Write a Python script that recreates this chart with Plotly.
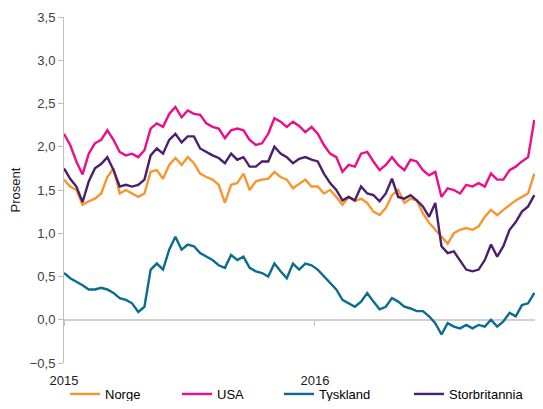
import pandas as pd
import plotly.graph_objects as go

# ~9-day sampling from 1 Jan 2015
dates = pd.date_range("2015-01-01", periods=77, freq="9D")

norge = [1.62, 1.54, 1.50, 1.33, 1.37, 1.40, 1.46, 1.65, 1.75, 1.46,
         1.50, 1.46, 1.42, 1.46, 1.71, 1.73, 1.63, 1.79, 1.87, 1.79,
         1.88, 1.81, 1.69, 1.65, 1.62, 1.56, 1.35, 1.56, 1.58, 1.69,
         1.50, 1.60, 1.62, 1.63, 1.71, 1.65, 1.62, 1.52, 1.57, 1.62,
         1.54, 1.54, 1.46, 1.50, 1.42, 1.33, 1.42, 1.37, 1.40, 1.35,
         1.25, 1.21, 1.29, 1.44, 1.50, 1.35, 1.40, 1.38, 1.23, 1.12,
         1.04, 0.96, 0.88, 1.00, 1.04, 1.06, 1.04, 1.08, 1.19, 1.27,
         1.21, 1.27, 1.33, 1.38, 1.42, 1.46, 1.69]
usa = [2.15, 2.02, 1.83, 1.68, 1.92, 2.04, 2.08, 2.19, 2.08, 1.94,
       1.90, 1.92, 1.88, 1.96, 2.21, 2.27, 2.23, 2.38, 2.46, 2.34,
       2.42, 2.38, 2.37, 2.27, 2.23, 2.21, 2.10, 2.19, 2.21, 2.19,
       2.08, 2.02, 2.04, 2.15, 2.33, 2.29, 2.23, 2.29, 2.24, 2.17,
       2.23, 2.15, 2.02, 1.92, 1.88, 1.71, 1.79, 1.77, 1.92, 1.94,
       1.83, 1.73, 1.79, 1.88, 1.79, 1.73, 1.85, 1.83, 1.73, 1.67,
       1.71, 1.42, 1.52, 1.50, 1.46, 1.56, 1.54, 1.58, 1.54, 1.69,
       1.62, 1.62, 1.73, 1.77, 1.83, 1.88, 2.31]
tyskland = [0.54, 0.48, 0.44, 0.40, 0.35, 0.35, 0.37, 0.35, 0.31, 0.25,
            0.23, 0.19, 0.09, 0.15, 0.58, 0.65, 0.58, 0.81, 0.96, 0.81,
            0.87, 0.85, 0.77, 0.73, 0.69, 0.63, 0.60, 0.75, 0.69, 0.73,
            0.60, 0.56, 0.54, 0.50, 0.65, 0.56, 0.48, 0.65, 0.58, 0.65,
            0.63, 0.58, 0.50, 0.42, 0.35, 0.23, 0.19, 0.15, 0.21, 0.31,
            0.21, 0.12, 0.15, 0.25, 0.21, 0.15, 0.13, 0.10, 0.10, 0.04,
            -0.04, -0.17, -0.04, -0.08, -0.10, -0.06, -0.10, -0.06, -0.08, 0.00,
            -0.08, -0.02, 0.08, 0.04, 0.17, 0.19, 0.31]
storbritannia = [1.75, 1.63, 1.54, 1.36, 1.60, 1.75, 1.80, 1.88, 1.73, 1.54,
                 1.56, 1.54, 1.56, 1.62, 1.90, 1.98, 1.92, 2.08, 2.15, 2.05,
                 2.12, 2.12, 1.98, 1.94, 1.90, 1.87, 1.81, 1.92, 1.85, 1.88,
                 1.77, 1.77, 1.83, 1.83, 2.00, 1.92, 1.88, 1.81, 1.86, 1.88,
                 1.85, 1.83, 1.69, 1.58, 1.50, 1.38, 1.42, 1.38, 1.54, 1.46,
                 1.44, 1.37, 1.46, 1.63, 1.42, 1.40, 1.44, 1.38, 1.31, 1.19,
                 1.35, 0.85, 0.77, 0.79, 0.69, 0.58, 0.56, 0.58, 0.69, 0.87,
                 0.73, 0.85, 1.04, 1.13, 1.25, 1.31, 1.44]

year_ticks = ["2015-01-01", "2016-01-01"]
year_labels = ["2015", "2016"]
x_range = ["2015-01-01", "2016-11-16"]

series = [("Norge", norge, "#F7962F"),
          ("USA", usa, "#EC0C8C"),
          ("Tyskland", tyskland, "#0B6B92"),
          ("Storbritannia", storbritannia, "#4B1E6E")]

# page body has an 8px default margin: size the figure so the page does not scroll
OFF = 8
W, H = 543 - 2 * OFF, 409 - 2 * OFF
L, R, T = 64 - OFF, 0, 17 - OFF
pw, ph = W - L - R, 346
B = H - T - ph
legend_px = [72, 184, 286, 416]
legend_y = 394

fig = go.Figure()
for k, (name, vals, col) in enumerate(series):
    lg = "legend" if k == 0 else f"legend{k+1}"
    fig.add_trace(go.Scatter(x=dates, y=vals, name=name, mode="lines",
                             line=dict(color=col, width=2.4),
                             legend=lg))

# invisible trace on an overlay axis: small tick marks on the zero line
fig.add_trace(go.Scatter(x=year_ticks, y=[0, 0], xaxis="x2", mode="lines",
                         line=dict(width=0), hoverinfo="skip", showlegend=False))

family = "Liberation Sans, Arial, sans-serif"
layout_legends = {}
for k, px in enumerate(legend_px):
    key = "legend" if k == 0 else f"legend{k+1}"
    layout_legends[key] = dict(x=(px - OFF - L - 7) / pw, xanchor="left",
                               y=(T + ph - (legend_y - OFF)) / ph, yanchor="middle",
                               orientation="h", itemwidth=30,
                               bgcolor="rgba(0,0,0,0)",
                               font=dict(family=family, size=13, color="#000000"))

fig.update_layout(
    width=W, height=H,
    margin=dict(l=L, r=R, t=T, b=B, autoexpand=False),
    paper_bgcolor="white", plot_bgcolor="white",
    separators=", ",
    font=dict(family=family, size=12, color="#404040"),
    showlegend=True,
    xaxis=dict(range=x_range, tickvals=year_ticks, ticktext=year_labels, automargin=False,
               showgrid=False, zeroline=False, showline=False, ticks="",
               tickfont=dict(size=13, color="#202020"), ticklabelstandoff=8),
    xaxis2=dict(overlaying="x", anchor="free", position=0.5 / 4.0,
                range=x_range, tickvals=year_ticks,
                showticklabels=False, ticks="outside", ticklen=5,
                tickcolor="#BFBFBF", showgrid=False, zeroline=False, showline=False),
    yaxis=dict(range=[-0.5, 3.5], dtick=0.5, tick0=-0.5, tickformat=".1f",
               automargin=False,
               showgrid=False, zeroline=True, zerolinecolor="#D0D0D0", zerolinewidth=1.5,
               showline=True, linecolor="#BFBFBF", linewidth=1,
               ticks="outside", ticklen=5, tickcolor="#BFBFBF",
               title=dict(text="Prosent", standoff=8, font=dict(size=13, color="#202020")),
               tickfont=dict(size=13, color="#404040")),
    **layout_legends,
)
fig.write_html("out.html")
